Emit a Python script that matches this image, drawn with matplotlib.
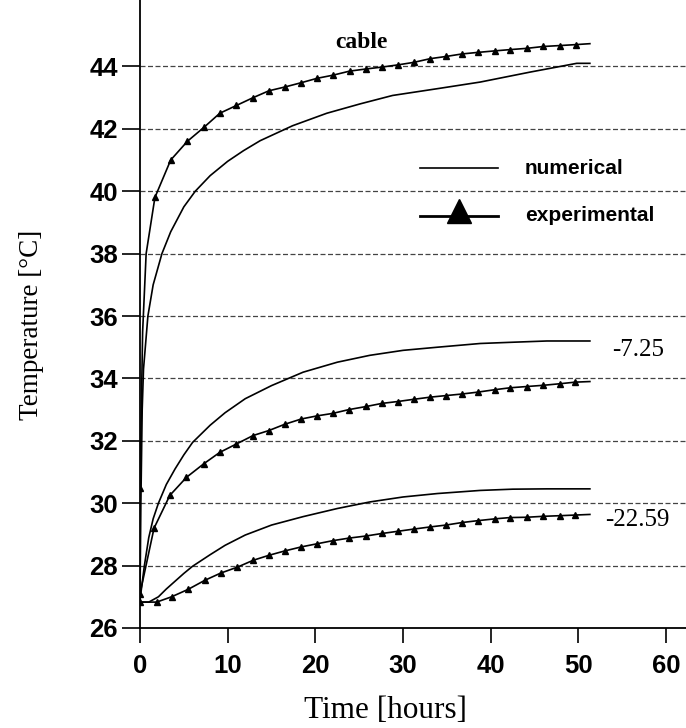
import matplotlib
matplotlib.use('Agg')
import matplotlib.pyplot as plt

# time [hours] and temperature [C]
cable_num_t = [0, 0.1, 0.25, 0.4, 0.9, 1.5, 2.5, 3.5, 5.0, 6.3, 8.0, 10.0, 11.8, 13.7, 17.4,
               21.3, 25.1, 28.8, 34.2, 38.8, 44.5, 49.8, 51.3]
cable_num_T = [27.0, 30.0, 33.0, 34.3, 36.0, 37.0, 38.0, 38.7, 39.5, 40.0, 40.5, 40.96, 41.3,
               41.62, 42.1, 42.5, 42.8, 43.07, 43.3, 43.5, 43.82, 44.1, 44.1]

cable_exp_t = [0, 0.3, 0.7, 1.7, 3.5, 5.4, 7.3, 9.1, 11.0, 12.9, 14.7, 16.5, 18.4, 20.2, 22.0,
               23.9, 25.8, 27.6, 29.4, 31.2, 33.1, 34.9, 36.7, 38.5, 40.5, 42.2, 44.1, 46.0,
               47.9, 49.7, 51.3]
cable_exp_T = [30.5, 35.5, 38.0, 39.8, 41.0, 41.6, 42.05, 42.5, 42.75, 43.0, 43.22, 43.34, 43.48,
               43.62, 43.72, 43.85, 43.92, 43.98, 44.05, 44.13, 44.25, 44.32, 44.4, 44.45, 44.5,
               44.54, 44.58, 44.64, 44.67, 44.7, 44.73]
cable_marks = [0] + list(range(3, 30))

n725_t = [0, 0.5, 1.0, 1.5, 2.1, 3.0, 4.0, 5.0, 6.0, 8.0, 9.7, 12.0, 15.0, 18.6, 22.5, 26.2,
          30.0, 33.9, 38.8, 42.5, 46.4, 51.3]
n725_T = [26.9, 28.0, 28.9, 29.5, 30.0, 30.6, 31.1, 31.55, 31.95, 32.5, 32.9, 33.35, 33.77, 34.2,
          34.52, 34.74, 34.9, 35.0, 35.12, 35.16, 35.2, 35.2]

e725_t = [0, 1.6, 3.4, 5.3, 7.3, 9.1, 11.0, 12.9, 14.7, 16.5, 18.4, 20.2, 22.0, 23.8, 25.8, 27.6,
          29.4, 31.2, 33.1, 34.9, 36.7, 38.5, 40.5, 42.2, 44.1, 46.0, 47.9, 49.6, 51.3]
e725_T = [27.1, 29.2, 30.25, 30.83, 31.27, 31.63, 31.9, 32.17, 32.33, 32.53, 32.7, 32.8, 32.88,
          33.0, 33.1, 33.2, 33.26, 33.33, 33.4, 33.45, 33.5, 33.56, 33.64, 33.7, 33.74, 33.78,
          33.83, 33.88, 33.9]

n2259_t = [0, 1.0, 2.1, 3.0, 4.0, 5.0, 6.0, 8.0, 9.7, 12.0, 15.0, 18.6, 22.5, 26.2, 30.0, 33.9,
           38.8, 42.5, 46.4, 51.3]
n2259_T = [26.83, 26.83, 27.0, 27.25, 27.5, 27.75, 27.98, 28.35, 28.65, 28.98, 29.3, 29.57,
           29.83, 30.04, 30.2, 30.31, 30.41, 30.45, 30.46, 30.46]

e2259_t = [0, 1.9, 3.6, 5.5, 7.4, 9.2, 11.1, 12.9, 14.7, 16.5, 18.4, 20.2, 22.0, 23.8, 25.8, 27.6,
           29.4, 31.2, 33.1, 34.9, 36.7, 38.5, 40.5, 42.2, 44.1, 46.0, 47.9, 49.6, 51.3]
e2259_T = [26.83, 26.83, 27.0, 27.24, 27.53, 27.76, 27.95, 28.17, 28.33, 28.47, 28.6, 28.7, 28.8,
           28.88, 28.95, 29.03, 29.1, 29.17, 29.24, 29.3, 29.38, 29.44, 29.5, 29.54, 29.55, 29.58,
           29.6, 29.62, 29.64]
exp_marks = list(range(0, 28))

fig = plt.figure(figsize=(6.86, 7.28), dpi=100)
ax = fig.add_axes([140/686, 100/728, 546/686, 628/728])

ax.set_xlim(0, 62.26)
ax.set_ylim(26, 46.13)
ax.set_xticks([0, 10, 20, 30, 40, 50, 60])
ax.set_yticks(range(26, 46, 2))
for s in ['top', 'right']:
    ax.spines[s].set_visible(False)
for s in ['left', 'bottom']:
    ax.spines[s].set_linewidth(1.3)

for y in range(28, 46, 2):
    ax.axhline(y, color='#444444', lw=0.9, ls=(0, (4, 2)), zorder=0)

lw = 1.2
ax.plot(cable_num_t, cable_num_T, color='black', lw=lw)
ax.plot(cable_exp_t, cable_exp_T, color='black', lw=lw, marker='^', ms=5,
        markevery=cable_marks)
ax.plot(n725_t, n725_T, color='black', lw=lw)
ax.plot(e725_t, e725_T, color='black', lw=lw, marker='^', ms=5, markevery=exp_marks)
ax.plot(n2259_t, n2259_T, color='black', lw=lw)
ax.plot(e2259_t, e2259_T, color='black', lw=lw, marker='^', ms=5, markevery=exp_marks)

ax.tick_params(axis='y', direction='out', length=13, width=1.2, pad=3)
ax.tick_params(axis='x', direction='out', length=11, width=1.2, pad=8)
for lab in ax.get_xticklabels() + ax.get_yticklabels():
    lab.set_fontfamily('Liberation Sans')
    lab.set_fontweight('bold')
    lab.set_fontsize(18.5)

ax.set_xlabel('Time [hours]', fontfamily='Liberation Serif', fontsize=22.5)
ax.set_ylabel('Temperature [\u00b0C]', fontfamily='Liberation Serif', fontsize=19.5)
ax.xaxis.set_label_coords(0.45, -0.108)
ax.yaxis.set_label_coords(-0.175, 0.483)

ax.text(25.3, 44.77, 'cable', fontfamily='Liberation Serif', fontweight='bold', fontsize=17,
        ha='center', va='center')
ax.text(53.8, 34.9, '-7.25', fontfamily='Liberation Serif', fontsize=18, va='center')
ax.text(53.0, 29.45, '-22.59', fontfamily='Liberation Serif', fontsize=18, va='center')

# legend drawn by hand
ax.plot([31.9, 40.8], [40.73, 40.73], color='black', lw=lw)
ax.plot([31.9, 40.8], [39.22, 39.22], color='black', lw=2)
ax.plot([36.4], [39.37], marker='^', color='black', ms=17)
ax.text(43.9, 40.73, 'numerical', fontfamily='Liberation Sans', fontweight='bold', fontsize=15,
        va='center')
ax.text(43.9, 39.22, 'experimental', fontfamily='Liberation Sans', fontweight='bold',
        fontsize=15, va='center')

fig.savefig('out.png', dpi=100)
